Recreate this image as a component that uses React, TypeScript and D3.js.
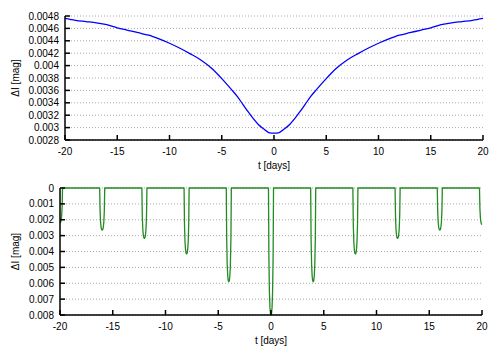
import React from 'react';
import * as d3 from 'd3';

// top panel: smooth light curve
const topT = [
  -20, -19, -18, -17, -16, -15, -14, -13, -12, -11, -10, -9, -8, -7, -6, -5, -4,
  -3.5, -3, -2.5, -2, -1.5, -1, -0.5, 0, 0.5, 1, 1.5, 2, 2.5, 3, 3.5,
  4, 5, 6, 7, 8, 9, 10, 11, 12, 13, 14, 15, 16, 17, 18, 19, 20,
];
const topDI = [
  0.00476, 0.00473, 0.00471, 0.00469, 0.00466, 0.00461, 0.00457, 0.00453, 0.00449, 0.00443,
  0.00436, 0.00428, 0.00419, 0.00409, 0.00396, 0.00379, 0.0036,
  0.0035, 0.00338, 0.00326, 0.00315, 0.00305, 0.00298, 0.00292, 0.00291, 0.00292, 0.00298,
  0.00305, 0.00315, 0.00326, 0.00338, 0.0035,
  0.0036, 0.00379, 0.00396, 0.00409, 0.00419, 0.00428, 0.00436, 0.00443, 0.00449, 0.00453,
  0.00457, 0.00461, 0.00466, 0.00469, 0.00471, 0.00473, 0.00476,
];
const topYTicks = [0.0028, 0.003, 0.0032, 0.0034, 0.0036, 0.0038, 0.004, 0.0042, 0.0044, 0.0046, 0.0048];

// bottom panel: eclipse dips
const dipCenters = [-20, -16, -12, -8, -4, 0, 4, 8, 12, 16, 20];
const dipDepths = [0.0022, 0.00265, 0.00317, 0.00415, 0.0059, 0.008, 0.0059, 0.00415, 0.00317, 0.00265, 0.0023];
const dipOffsets = [-0.24, -0.2, -0.15, -0.1, -0.05, 0, 0.05, 0.1, 0.15, 0.2, 0.24];
const dipShape = [0, 0.55, 0.82, 0.94, 0.99, 1, 0.99, 0.94, 0.82, 0.55, 0];
const botYTicks = [0, 0.001, 0.002, 0.003, 0.004, 0.005, 0.006, 0.007, 0.008];

const xTicks = [-20, -15, -10, -5, 0, 5, 10, 15, 20];

const FONT = '"Liberation Sans", Arial, sans-serif';

type Pt = [number, number];

const fmt = (v: number) => String(+v.toFixed(4));

function Panel({ pts, yDomain, yTicks, box, color, smooth }: {
  pts: Pt[]; yDomain: [number, number]; yTicks: number[];
  box: { l: number; r: number; t: number; b: number }; color: string; smooth?: boolean;
}) {
  const x = d3.scaleLinear().domain([-20, 20]).range([box.l, box.r]);
  const y = d3.scaleLinear().domain(yDomain).range([box.b, box.t]);
  const line = d3.line<Pt>().x(d => x(d[0])).y(d => y(d[1]))
    .curve(smooth ? d3.curveMonotoneX : d3.curveLinear);
  const midY = (box.t + box.b) / 2;
  return (
    <g>
      {yTicks.map(v => (
        <line key={'g' + v} x1={box.l} x2={box.r} y1={y(v)} y2={y(v)}
          stroke="#a8a8a8" strokeWidth={1} strokeDasharray="1,2" />
      ))}
      <path d={line(pts) || ''} fill="none" stroke={color} strokeWidth={1.3} strokeLinejoin="round" />
      <line x1={box.l} x2={box.l} y1={box.t} y2={box.b} stroke="#000" strokeWidth={1.5} />
      <line x1={box.l} x2={box.r} y1={box.b} y2={box.b} stroke="#000" strokeWidth={1.5} />
      {yTicks.map(v => (
        <g key={'y' + v}>
          <line x1={box.l} x2={box.l + 5} y1={y(v)} y2={y(v)} stroke="#000" strokeWidth={1.5} />
          <text x={box.l - 6} y={y(v)} dy="0.35em" textAnchor="end" fontSize={10} fontFamily={FONT}>{fmt(v)}</text>
        </g>
      ))}
      {xTicks.map(v => (
        <g key={'x' + v}>
          <line x1={x(v)} x2={x(v)} y1={box.b} y2={box.b - 5} stroke="#000" strokeWidth={1.5} />
          <text x={x(v)} y={box.b + 11} dy="0.35em" textAnchor="middle" fontSize={10} fontFamily={FONT}>{v}</text>
        </g>
      ))}
      <text x={(box.l + box.r) / 2} y={box.b + 25} dy="0.35em" textAnchor="middle" fontSize={10} fontFamily={FONT}>t [days]</text>
      <text transform={`translate(15,${midY}) rotate(-90)`} dy="0.35em" textAnchor="middle" fontSize={10} fontFamily={FONT}>ΔI [mag]</text>
    </g>
  );
}

export default function App() {
  const topPts: Pt[] = topT.map((t, i) => [t, topDI[i]]);

  const botPts: Pt[] = [];
  dipCenters.forEach((c, i) => {
    dipOffsets.forEach((o, j) => {
      const t = c + o;
      if (t >= -20 && t <= 20) botPts.push([t, dipDepths[i] * dipShape[j]]);
    });
  });

  return (
    <svg width={500} height={350} style={{ position: 'absolute', left: 0, top: 0, background: '#fff' }}>
      <Panel pts={topPts} yDomain={[0.0028, 0.0048]} yTicks={topYTicks}
        box={{ l: 65, r: 483, t: 16, b: 140 }} color="#0000ff" smooth />
      <Panel pts={botPts} yDomain={[0.008, 0]} yTicks={botYTicks}
        box={{ l: 60, r: 482, t: 188, b: 315 }} color="#228b22" />
    </svg>
  );
}
